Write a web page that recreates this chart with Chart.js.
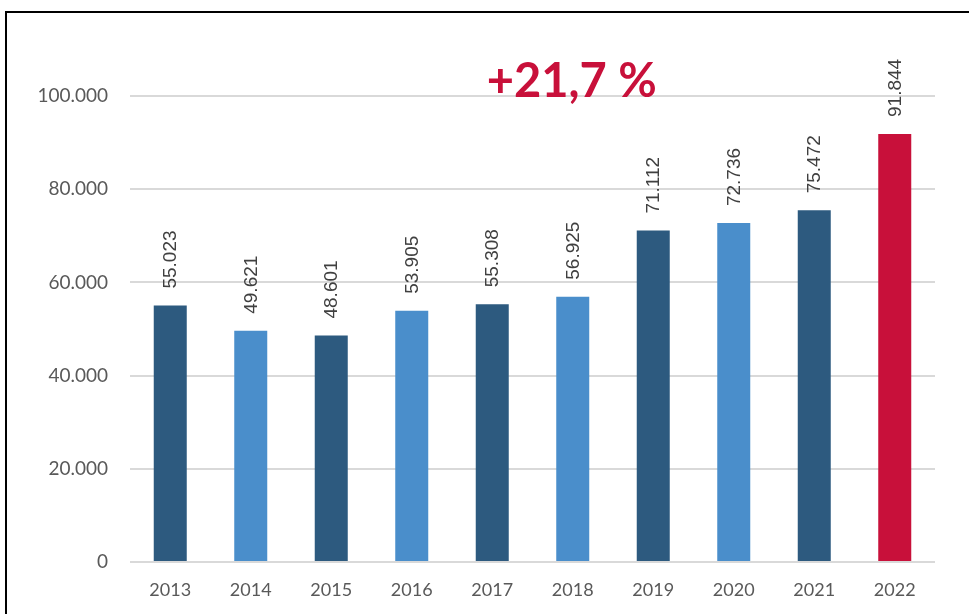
<!DOCTYPE html>
<html>
<head>
<meta charset="utf-8">
<script src="https://cdn.jsdelivr.net/npm/chart.js@4/dist/chart.umd.min.js"></script>
<style>
  html, body { margin: 0; padding: 0; background: #fff; overflow: hidden; }
  #wrap { position: relative; width: 969px; height: 614px; }
  #frame {
    position: absolute; left: 5px; top: 11px; width: 2000px; height: 2000px;
    border-top: 2px solid #000; border-left: 2px solid #000;
  }
  canvas { position: absolute; left: 0; top: 0; }
</style>
</head>
<body>
<div id="wrap">
  <div id="frame"></div>
  <canvas id="chart" width="969" height="614"></canvas>
</div>
<script>
// Years on the x axis
const years = ['2013', '2014', '2015', '2016', '2017', '2018', '2019', '2020', '2021', '2022'];
// Values per year
const values = [55023, 49621, 48601, 53905, 55308, 56925, 71112, 72736, 75472, 91844];
// Alternating dark/light blue, last year in red
const barColors = ['#2D5A7F', '#4A8ECB', '#2D5A7F', '#4A8ECB', '#2D5A7F',
                   '#4A8ECB', '#2D5A7F', '#4A8ECB', '#2D5A7F', '#C8103A'];
// Growth caption, placed over the 2018 column
const growthText = '+21,7 %';
const growthAt = '2018';

// German style thousands separator
function fmt(v) {
  return String(v).replace(/\B(?=(\d{3})+(?!\d))/g, '.');
}

// Rotated value labels above the bars plus the growth caption
const labelPlugin = {
  id: 'labels',
  afterDatasetsDraw(chart) {
    const ctx = chart.ctx;
    const meta = chart.getDatasetMeta(0);
    ctx.save();
    ctx.fillStyle = '#404040';
    ctx.font = '19px "Liberation Sans", Arial, sans-serif';
    ctx.textAlign = 'left';
    ctx.textBaseline = 'middle';
    meta.data.forEach((bar, i) => {
      ctx.save();
      ctx.translate(bar.x + 1, bar.y - 17);
      ctx.rotate(-Math.PI / 2);
      ctx.fillText(fmt(values[i]), 0, 0);
      ctx.restore();
    });

    const xs = chart.scales.x;
    const ys = chart.scales.y;
    ctx.fillStyle = '#C8103A';
    ctx.font = 'bold 47px Lato, sans-serif';
    ctx.textAlign = 'center';
    ctx.textBaseline = 'alphabetic';
    ctx.fillText(growthText, xs.getPixelForValue(years.indexOf(growthAt)) - 1, ys.getPixelForValue(100000) + 1);
    ctx.restore();
  }
};

new Chart(document.getElementById('chart'), {
  type: 'bar',
  data: {
    labels: years,
    datasets: [{
      data: values,
      backgroundColor: barColors,
      borderWidth: 0,
      categoryPercentage: 1,
      barPercentage: 0.41
    }]
  },
  options: {
    responsive: false,
    animation: false,
    events: [],
    layout: { padding: { top: 96, right: 34, left: 0, bottom: 0 } },
    plugins: {
      legend: { display: false },
      tooltip: { enabled: false }
    },
    scales: {
      x: {
        grid: { display: false },
        border: { display: false },
        ticks: {
          color: '#595959',
          font: { family: 'Lato, sans-serif', size: 18 },
          padding: 9
        },
        afterFit(s) { s.height = 52; }
      },
      y: {
        min: 0,
        max: 100000,
        grid: { color: '#D9D9D9', lineWidth: 2, drawTicks: false },
        border: { display: false },
        ticks: {
          stepSize: 20000,
          color: '#595959',
          font: { family: 'Lato, sans-serif', size: 19 },
          padding: 22,
          callback: (v) => fmt(v)
        },
        afterFit(s) { s.width = 130; }
      }
    }
  },
  plugins: [labelPlugin]
});
</script>
</body>
</html>
